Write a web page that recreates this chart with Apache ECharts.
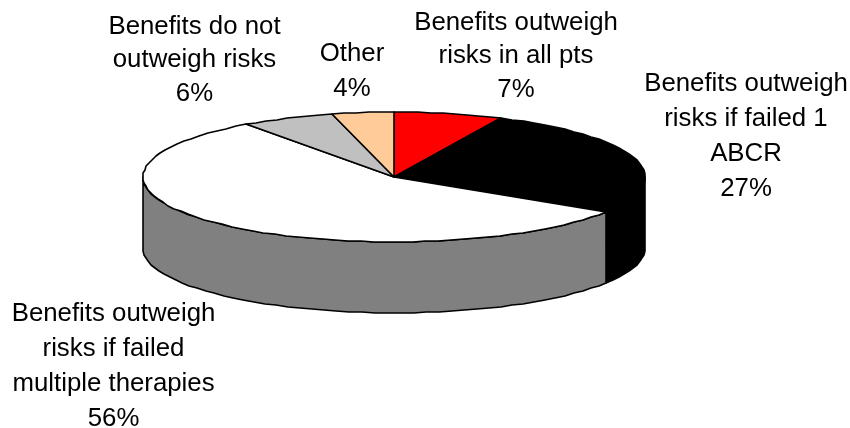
<!DOCTYPE html>
<html>
<head>
<meta charset="utf-8">
<style>html,body{margin:0;padding:0;background:#fff}#chart{width:850px;height:428px}</style>
<script src="https://cdn.jsdelivr.net/npm/echarts@6/dist/echarts.min.js"></script>
</head>
<body>
<div id="chart"></div>
<script>
// Survey responses, clockwise from twelve o'clock
const categories = [
  'Benefits outweigh\nrisks in all pts',
  'Benefits outweigh\nrisks if failed 1\nABCR',
  'Benefits outweigh\nrisks if failed\nmultiple therapies',
  'Benefits do not\noutweigh risks',
  'Other'
];
const shares = [7, 27, 56, 6, 4];

const topColors = ['#ff0000', '#000000', '#ffffff', '#c0c0c0', '#ffcc99'];
const rimColors = ['#800000', '#000000', '#808080', '#606060', '#806650'];

// Label anchors: centre x, first-line top y, line height
const labelLayout = [
  { x: 516, y: 6, lh: 33.5 },
  { x: 746, y: 66, lh: 35 },
  { x: 113.5, y: 296.5, lh: 35 },
  { x: 194.5, y: 10, lh: 33.5 },
  { x: 352, y: 37, lh: 34.5 }
];

const DEPTH = 71 / 65;       // rim height in units of the ellipse's vertical radius
const total = shares.reduce((a, b) => a + b, 0);
const starts = [];
shares.reduce((acc, v, i) => { starts[i] = acc; return acc + v; }, 0);

const rows = shares.map((v, i) => [i, starts[i] / total, (starts[i] + v) / total]);

// Arc vertices snap to whole pixels, which gives the rim its slightly stepped edge
function arcPoints(from, to, yOffset, api) {
  const pts = [];
  const step = Math.PI / 60;
  const n = Math.max(2, Math.ceil((to - from) / step));
  for (let k = 0; k <= n; k++) {
    const t = from + (to - from) * k / n;
    const p = api.coord([Math.sin(t), Math.cos(t) + yOffset]);
    pts.push([Math.round(p[0]), Math.round(p[1])]);
  }
  return pts;
}

// Rim pieces sit under the top faces
function renderSlice(params, api) {
  const i = api.value(0);
  const a0 = api.value(1) * Math.PI * 2;
  const a1 = api.value(2) * Math.PI * 2;
  const children = [];
  // The rim is only visible on the near half of the ellipse
  const f0 = Math.max(a0, Math.PI / 2);
  const f1 = Math.min(a1, Math.PI * 1.5);
  if (f1 > f0) {
    const top = arcPoints(f0, f1, 0, api);
    const bottom = arcPoints(f0, f1, -DEPTH, api).reverse();
    children.push({
      type: 'polygon', z2: 1,
      shape: { points: top.concat(bottom) },
      style: { fill: rimColors[i], stroke: '#000', lineWidth: 1.6, lineJoin: 'round' }
    });
  }
  const centre = api.coord([0, 0]);
  children.push({
    type: 'polygon', z2: 2,
    shape: { points: [centre].concat(arcPoints(a0, a1, 0, api)) },
    style: { fill: topColors[i], stroke: '#000', lineWidth: 1.6, lineJoin: 'round' }
  });
  return { type: 'group', children };
}

const chart = echarts.init(document.getElementById('chart'), null, { renderer: 'canvas' });
chart.setOption({
  animation: false,
  backgroundColor: '#ffffff',
  grid: { left: 143, width: 502, top: 112, height: 65 * (2 + DEPTH) },
  xAxis: { type: 'value', min: -1, max: 1, show: false },
  yAxis: { type: 'value', min: -1 - DEPTH, max: 1, show: false },
  series: [{
    type: 'custom',
    coordinateSystem: 'cartesian2d',
    renderItem: renderSlice,
    encode: { x: 1, y: 2 },
    clip: false,
    data: rows
  }],
  graphic: categories.map((name, i) => ({
    type: 'text',
    x: labelLayout[i].x,
    y: labelLayout[i].y,
    style: {
      text: name + '\n' + shares[i] + '%',
      align: 'center',
      verticalAlign: 'top',
      fontFamily: '"Liberation Sans", Arial, sans-serif',
      fontSize: 25.8,
      lineHeight: labelLayout[i].lh,
      fill: '#000'
    }
  }))
});
</script>
</body>
</html>
